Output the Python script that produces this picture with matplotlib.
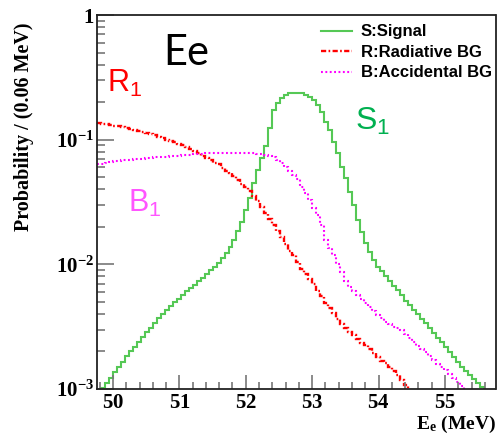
import numpy as np
import matplotlib
matplotlib.use("Agg")
import matplotlib.pyplot as plt
from matplotlib.lines import Line2D
from matplotlib.ticker import FixedLocator, FixedFormatter, MultipleLocator, LogLocator, NullFormatter

# binning: 100 bins of 0.06 MeV starting at 49.76 MeV
e_min = 49.76
bin_width = 0.06
n_bins = 100

# probability per bin, signal (S)
signal = [
    0.00090, 0.00102, 0.00111, 0.00123, 0.00136, 0.00151, 0.00166, 0.00184, 0.00200, 0.00219,
    0.00240, 0.00263, 0.00285, 0.00311, 0.00341, 0.00370, 0.00398, 0.00431, 0.00464, 0.00497,
    0.00528, 0.00568, 0.00612, 0.00643, 0.00684, 0.00736, 0.00774, 0.00838, 0.00902, 0.00959,
    0.0103, 0.0112, 0.0123, 0.0139, 0.0157, 0.0185, 0.0220, 0.0273, 0.0341, 0.0450,
    0.0572, 0.0713, 0.0890, 0.124, 0.173, 0.197, 0.216, 0.228, 0.235, 0.237,
    0.237, 0.235, 0.228, 0.220, 0.208, 0.190, 0.167, 0.139, 0.120, 0.0958,
    0.0782, 0.0604, 0.0493, 0.0381, 0.0300, 0.0227, 0.0182, 0.0148, 0.0126, 0.0109,
    0.00953, 0.00885, 0.00807, 0.00736, 0.00671, 0.00623, 0.00568, 0.00509, 0.00472, 0.00431,
    0.00400, 0.00365, 0.00339, 0.00309, 0.00282, 0.00257, 0.00239, 0.00218, 0.00198, 0.00181,
    0.00165, 0.00150, 0.00140, 0.00130, 0.00121, 0.00112, 0.00104, 0.00096, 0.00089, 0.00082,
]

# radiative background (R)
radiative = [
    0.1349, 0.1336, 0.1329, 0.1312, 0.1295, 0.1281, 0.1264, 0.1246, 0.1227, 0.1205,
    0.1179, 0.1153, 0.1129, 0.1105, 0.1080, 0.1057, 0.1028, 0.1002, 0.0980, 0.0957,
    0.0930, 0.0905, 0.0879, 0.0842, 0.0809, 0.0775, 0.0746, 0.0717, 0.0684, 0.0653,
    0.0633, 0.0593, 0.0561, 0.0543, 0.0509, 0.0475, 0.0445, 0.0414, 0.0388, 0.0354,
    0.0322, 0.0289, 0.0258, 0.0231, 0.0207, 0.0185, 0.0166, 0.0146, 0.0129, 0.0119,
    0.01045, 0.00918, 0.00838, 0.00764, 0.00690, 0.00612, 0.00558, 0.00490, 0.00447, 0.00404,
    0.00361, 0.00333, 0.00309, 0.00287, 0.00269, 0.00252, 0.00236, 0.00226, 0.00210, 0.00195,
    0.00181, 0.00169, 0.00162, 0.00150, 0.00140, 0.00129, 0.00118, 0.00108, 0.00097, 0.00089,
    0.00082, 0.00075, 0.00069, 0.00063, 0.00058, 0.00053, 0.00049, 0.00045, 0.00041, 0.00038,
    0.00035, 0.00032, 0.00029, 0.00027, 0.00025, 0.00023, 0.00021, 0.00019, 0.00018, 0.00016,
]

# accidental background (B)
accidental = [
    0.0633, 0.0643, 0.0654, 0.0663, 0.0671, 0.0677, 0.0682, 0.0688, 0.0692, 0.0698,
    0.0701, 0.0705, 0.0709, 0.0714, 0.0720, 0.0724, 0.0727, 0.0731, 0.0736, 0.0742,
    0.0746, 0.0750, 0.0754, 0.0760, 0.0765, 0.0769, 0.0774, 0.0778, 0.0780, 0.0781,
    0.0782, 0.0784, 0.0786, 0.0787, 0.0787, 0.0787, 0.0787, 0.0784, 0.0781, 0.0778,
    0.0769, 0.0761, 0.0754, 0.0733, 0.0720, 0.0688, 0.0644, 0.0604, 0.0561, 0.0521,
    0.0484, 0.0418, 0.0374, 0.0328, 0.0283, 0.0249, 0.0207, 0.0157, 0.0135, 0.0119,
    0.01007, 0.00869, 0.00736, 0.00659, 0.00612, 0.00568, 0.00528, 0.00490, 0.00455, 0.00423,
    0.00393, 0.00372, 0.00345, 0.00330, 0.00315, 0.00309, 0.00295, 0.00277, 0.00257, 0.00239,
    0.00222, 0.00210, 0.00198, 0.00184, 0.00171, 0.00159, 0.00150, 0.00142, 0.00132, 0.00123,
    0.00114, 0.00106, 0.00097, 0.00090, 0.00083, 0.00077, 0.00071, 0.00066, 0.00061, 0.00056,
]

y_ticks = [1e-3, 1e-2, 1e-1, 1]
y_tick_labels = [r"$\mathregular{10^{-3}}$", r"$\mathregular{10^{-2}}$", r"$\mathregular{10^{-1}}$", "1"]
x_ticks = [50, 51, 52, 53, 54, 55]

edges = e_min + bin_width * np.arange(n_bins + 1)

sig_color = "#55c855"
rad_color = "#ff0000"
acc_color = "#ff00ff"
rad_style = (0, (2.2, 1.0, 0.7, 1.0))
acc_style = (0, (0.9, 1.2))

fig = plt.figure(figsize=(4.97, 4.36), dpi=100)
ax = fig.add_axes([97 / 497, 47 / 436, 398.5 / 497, 374 / 436])

ax.stairs(signal, edges, baseline=None, color=sig_color, linewidth=1.5)
ax.stairs(radiative, edges, baseline=None, color=rad_color, linewidth=1.7, linestyle=rad_style)
ax.stairs(accidental, edges, baseline=None, color=acc_color, linewidth=1.5, linestyle=acc_style)

ax.set_yscale("log")
ax.set_xlim(e_min, e_min + bin_width * n_bins)
ax.set_ylim(1e-3, 1)

# ticks
ax.yaxis.set_major_locator(FixedLocator(y_ticks))
ax.yaxis.set_major_formatter(FixedFormatter(y_tick_labels))
ax.yaxis.set_minor_locator(LogLocator(base=10, subs=np.arange(2, 10)))
ax.yaxis.set_minor_formatter(NullFormatter())
ax.xaxis.set_major_locator(FixedLocator(x_ticks))
# mathregular keeps the label box tight around the digits
ax.xaxis.set_major_formatter(FixedFormatter([r"$\mathregular{%d}$" % t for t in x_ticks]))
ax.xaxis.set_minor_locator(MultipleLocator(0.2))

ax.tick_params(which="both", direction="in", color="#777777", width=1.2,
               top=False, right=False)
ax.tick_params(axis="y", which="major", length=12, pad=2)
ax.tick_params(axis="y", which="minor", length=6)
ax.tick_params(axis="x", which="major", length=10, pad=3)
ax.tick_params(axis="x", which="minor", length=5)
for lab in ax.get_xticklabels() + ax.get_yticklabels():
    lab.set_fontfamily("Liberation Serif")
    lab.set_fontweight("bold")
    lab.set_fontsize(15)

for sp in ax.spines.values():
    sp.set_linewidth(1.3)
    sp.set_color("#222222")

ax.set_ylabel("Probability / (0.06 MeV)", fontfamily="Liberation Serif",
              fontweight="bold", fontsize=14.5)
ax.yaxis.set_label_coords(-0.158, 0.70)
ax.set_xlabel(r"$\mathregular{E_e}$ (MeV)", fontfamily="Liberation Serif",
              fontweight="bold", fontsize=14)
# anchor the x label by its bottom edge so it sits just above the figure edge
ax.xaxis.set_label_coords(1.0, -0.122)
ax.xaxis.label.set_horizontalalignment("right")
ax.xaxis.label.set_verticalalignment("bottom")

# annotations
ax.text(0.166, 0.866, "Ee", transform=ax.transAxes, fontfamily="Lato",
        fontsize=30, va="baseline")
ax.text(0.025, 0.794, r"$\mathregular{R_1}$", transform=ax.transAxes,
        fontfamily="Liberation Sans", fontsize=22, color=rad_color, va="baseline")
ax.text(0.078, 0.473, r"$\mathregular{B_1}$", transform=ax.transAxes,
        fontfamily="Liberation Sans", fontsize=22, color="#ff55ff", va="baseline")
ax.text(0.647, 0.6925, r"$\mathregular{S_1}$", transform=ax.transAxes,
        fontfamily="Liberation Sans", fontsize=23, color="#00b050", va="baseline")

handles = [
    Line2D([], [], color=sig_color, linewidth=1.5),
    Line2D([], [], color=rad_color, linewidth=1.7, linestyle=rad_style),
    Line2D([], [], color=acc_color, linewidth=1.5, linestyle=acc_style),
]
ax.legend(handles, ["S:Signal", "R:Radiative BG", "B:Accidental BG"],
          loc="upper left", bbox_to_anchor=(0.562, 0.975), frameon=False,
          prop={"family": "Liberation Sans", "weight": "bold", "size": 12},
          handlelength=1.85, handletextpad=0.55, labelspacing=0.33,
          borderaxespad=0, borderpad=0)

fig.savefig("out.png", dpi=100)
